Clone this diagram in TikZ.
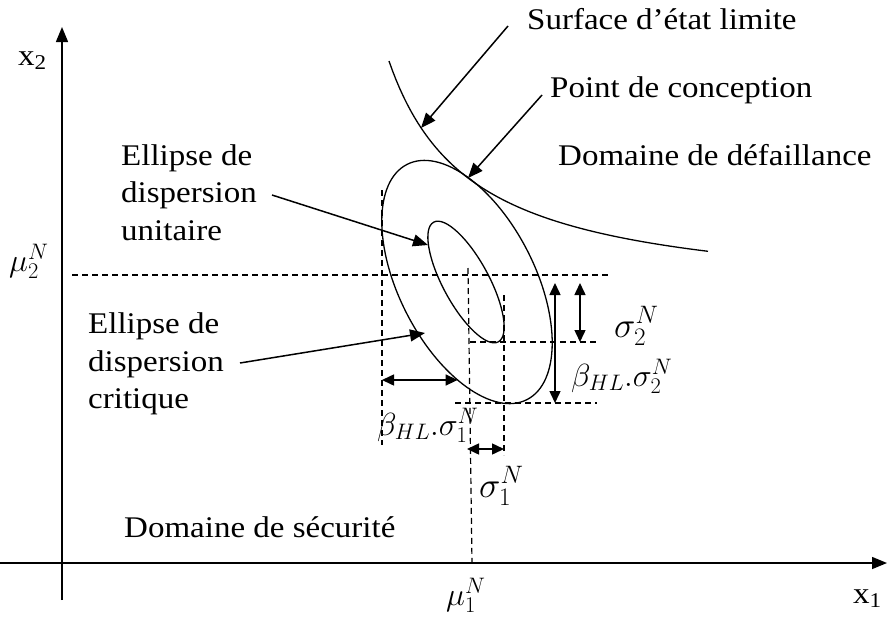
\RequirePackage{fix-cm}
\documentclass[tikz,border=0pt]{standalone}
\usepackage{fontspec}
\setmainfont{Liberation Serif}[FakeStretch=1.1]
\usetikzlibrary{arrows.meta}
\begin{document}
\begin{tikzpicture}[x=1pt,y=-1pt,
  lbl/.style={anchor=base west, inner sep=0pt, font=\fontsize{30}{36}\selectfont},
  mth/.style={anchor=base west, inner sep=0pt, font=\fontsize{32}{38}\selectfont},
  mthbig/.style={anchor=base west, inner sep=0pt, font=\fontsize{36}{42}\selectfont},
  curve/.style={line width=1.3pt},
  dsh/.style={line width=1.2pt, dash pattern=on 6pt off 4pt},
  axis/.style={line width=1.5pt, -{Triangle[length=15pt,width=12pt]}},
  dim/.style={line width=1.5pt, {Triangle[length=12pt,width=11pt]}-{Triangle[length=12pt,width=11pt]}},
  ptr/.style={line width=1.5pt, -{Triangle[length=15pt,width=12pt]}},
]
\useasboundingbox[fill=white] (0,0) rectangle (887,619);

% axes
\coordinate (yb) at (62,600); \coordinate (yt) at (62,27);
\coordinate (xl) at (0,563);  \coordinate (xr) at (887,563);
\draw[axis] (yb) -- (yt);
\draw[axis] (xl) -- (xr);
\node[lbl] (x2) at (18,65) {x\textsubscript{2}};
\node[lbl] (x1) at (853,603) {x\textsubscript{1}};

% limit state surface
\draw[curve] plot[domain=389:708, samples=90] (\x, {300.8 - 199/((\x-306)/100)});

% ellipses
\draw[curve, rotate around={-63:(467,282)}] (467,282) ellipse [x radius=132pt, y radius=68pt];
\draw[curve, rotate around={-61.6:(466,282)}] (466,282) ellipse [x radius=68pt, y radius=23pt];

% dashed reference lines
\coordinate (m2a) at (72,275);  \coordinate (m2b) at (610,275);
\coordinate (m1a) at (468,268); \coordinate (m1b) at (472,563);
\coordinate (bxa) at (382,190); \coordinate (bxb) at (382,445);
\coordinate (bya) at (455,403); \coordinate (byb) at (597,403);
\coordinate (sxa) at (504,295); \coordinate (sxb) at (504,455);
\coordinate (sya) at (470,342); \coordinate (syb) at (597,342);
\draw[dsh] (m2a) -- (m2b);
\draw[dsh] (m1a) -- (m1b);
\draw[dsh] (bxa) -- (bxb);
\draw[dsh] (bya) -- (byb);
\draw[dsh] (sxa) -- (sxb);
\draw[dsh] (sya) -- (syb);

% dimension arrows
\coordinate (d1a) at (382,380); \coordinate (d1b) at (457.6,380);
\coordinate (d2a) at (467,449); \coordinate (d2b) at (504,449);
\coordinate (d3a) at (555,283); \coordinate (d3b) at (555,403);
\coordinate (d4a) at (580,283); \coordinate (d4b) at (580,342);
\draw[dim] (d1a) -- (d1b);
\draw[dim] (d2a) -- (d2b);
\draw[dim] (d3a) -- (d3b);
\draw[dim] (d4a) -- (d4b);

% math labels
\node[mth] (mu2) at (9,271) {$\mu_2^N$};
\node[mth] (mu1) at (446,605) {$\mu_1^N$};
\node[mth] (bs1) at (377,435) {$\beta_{HL}.\sigma_1^N$};
\node[mthbig] (s1) at (479,497) {$\sigma_1^N$};
\node[mthbig] (s2) at (614,337) {$\sigma_2^N$};
\node[mth] (bs2) at (571,386) {$\beta_{HL}.\sigma_2^N$};

% text labels
\node[lbl] (surf) at (527,29) {Surface d’état limite};
\node[lbl] (pc) at (550,97) {Point de conception};
\node[lbl] (dd) at (558,165) {Domaine de défaillance};
\node[lbl] (u1) at (121,165) {Ellipse de};
\node[lbl] (u2) at (121,202.5) {dispersion};
\node[lbl] (u3) at (121,240) {unitaire};
\node[lbl] (c1) at (88,333) {Ellipse de};
\node[lbl] (c2) at (88,371) {dispersion};
\node[lbl] (c3) at (88,408) {critique};
\node[lbl] (ds) at (124,537) {Domaine de sécurité};

% pointer arrows
\coordinate (surfA) at (508,26);  \coordinate (surfB) at (421,128);
\coordinate (pcA) at (542,95);    \coordinate (pcB) at (468,178);
\coordinate (unA) at (272,195);   \coordinate (unB) at (428,245);
\coordinate (crA) at (240,363);   \coordinate (crB) at (425,333);
\draw[ptr] (surfA) -- (surfB);
\draw[ptr] (pcA) -- (pcB);
\draw[ptr] (unA) -- (unB);
\draw[ptr] (crA) -- (crB);
\end{tikzpicture}
\end{document}
